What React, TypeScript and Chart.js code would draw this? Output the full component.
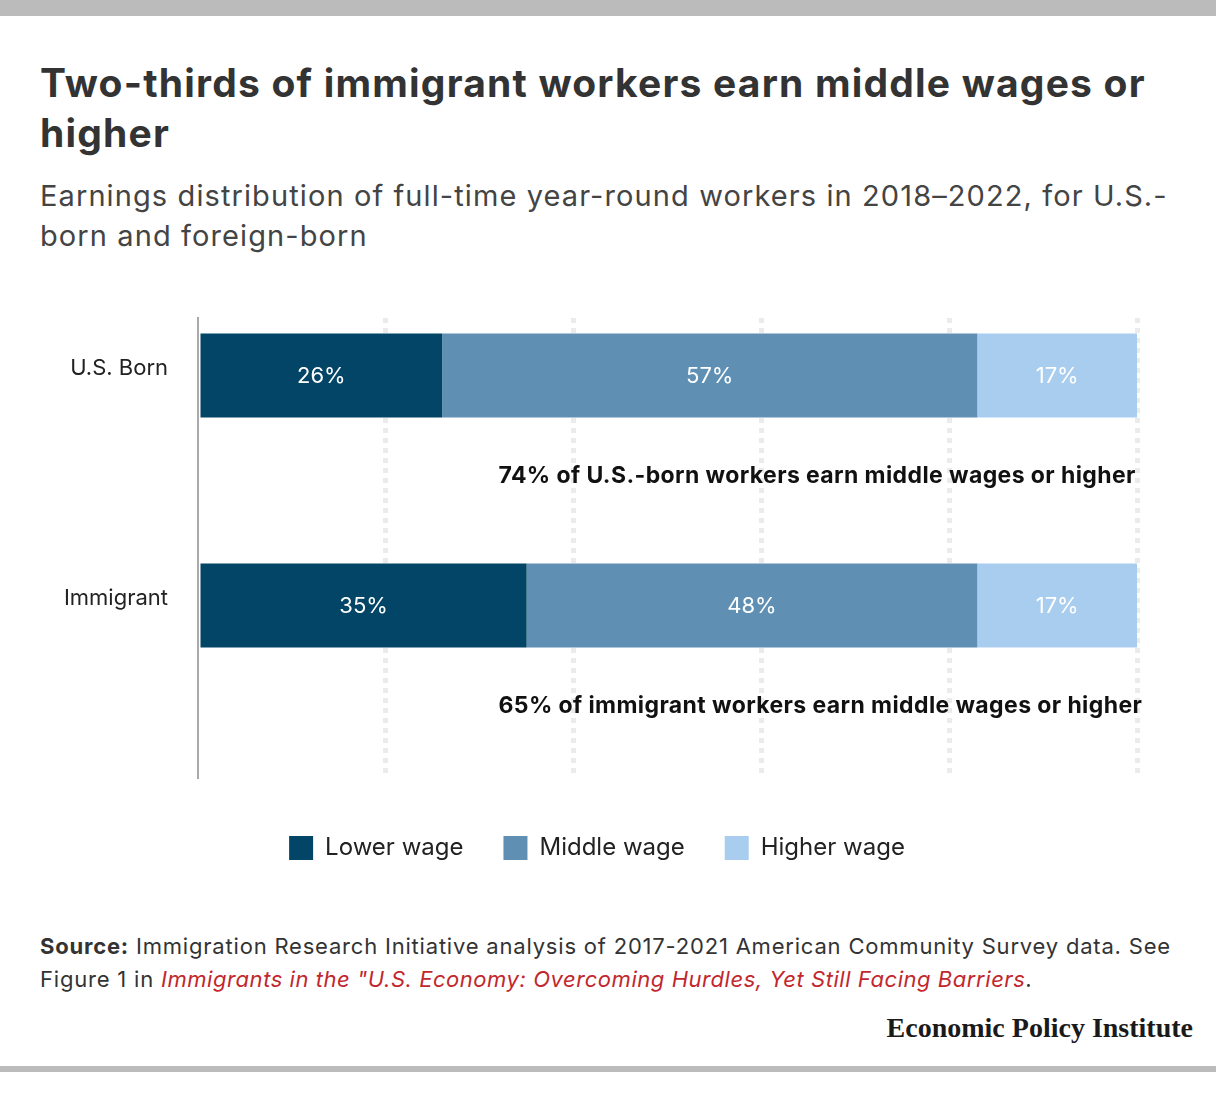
import { useEffect, useRef } from 'react'
import { Chart, registerables } from 'chart.js'

Chart.register(...registerables)

// rows: each bar is followed by an empty row that holds its note
const categories = ['U.S. Born', '', 'Immigrant', '']
const lowerWage = [26, null, 35, null]
const middleWage = [57, null, 48, null]
const higherWage = [17, null, 17, null]
const notes = [
  '74% of U.S.-born workers earn middle wages or higher',
  '',
  '65% of immigrant workers earn middle wages or higher',
  '',
]
const xTicks = [0, 20, 40, 60, 80, 100]
const noteAnchor = 32 // value on the x scale where notes start

const FONT = 'Inter, "Noto Sans", sans-serif'

const barLabels = {
  id: 'barLabels',
  afterDatasetsDraw(chart: any) {
    const { ctx } = chart
    ctx.save()
    ctx.font = `400 22px ${FONT}`
    ctx.fillStyle = '#ffffff'
    ctx.textAlign = 'center'
    ctx.textBaseline = 'middle'
    chart.data.datasets.forEach((ds: any, di: number) => {
      const meta = chart.getDatasetMeta(di)
      meta.data.forEach((el: any, i: number) => {
        const v = ds.data[i]
        if (v == null) return
        ctx.fillText(`${v}%`, (el.x + el.base) / 2, el.y + 1)
      })
    })
    ctx.restore()
  },
}

const rowNotes = {
  id: 'rowNotes',
  afterDatasetsDraw(chart: any) {
    const { ctx, scales } = chart
    ctx.save()
    ctx.font = `700 23px ${FONT}`
    ctx.fillStyle = '#111111'
    ctx.textAlign = 'left'
    ctx.textBaseline = 'middle'
    ;(ctx as any).letterSpacing = '0.4px'
    notes.forEach((t, i) => {
      if (!t) return
      const y = scales.y.getPixelForValue(i + 1) - 14
      ctx.fillText(t, scales.x.getPixelForValue(noteAnchor), y)
    })
    ctx.restore()
  },
}

const WageChart = () => {
  const canvasRef = useRef<HTMLCanvasElement>(null)
  const chartRef = useRef<Chart | null>(null)

  useEffect(() => {
    if (!canvasRef.current) return
    if (chartRef.current) chartRef.current.destroy()

    chartRef.current = new Chart(canvasRef.current, {
      type: 'bar',
      data: {
        labels: categories,
        datasets: [
          { label: 'Lower wage', data: lowerWage, backgroundColor: '#034566' },
          { label: 'Middle wage', data: middleWage, backgroundColor: '#5f90b3' },
          { label: 'Higher wage', data: higherWage, backgroundColor: '#a9cdef' },
        ] as any,
      },
      options: {
        indexAxis: 'y',
        animation: false,
        responsive: false,
        maintainAspectRatio: false,
        layout: { padding: { top: 28, right: 79, bottom: 0, left: 57 } },
        datasets: {
          bar: { categoryPercentage: 0.73, barPercentage: 1, borderWidth: 0 },
        },
        scales: {
          x: {
            stacked: true,
            min: 0,
            max: 100,
            afterBuildTicks: (s: any) => {
              s.ticks = xTicks.map((v) => ({ value: v }))
            },
            afterFit: (s: any) => {
              s.height = 18
            },
            ticks: { display: false },
            grid: {
              drawTicks: false,
              lineWidth: 5,
              color: (c: any) => (c.tick && c.tick.value === 0 ? 'rgba(0,0,0,0)' : '#ebebeb'),
            },
            border: { display: false, dash: [5, 5] },
          },
          y: {
            stacked: true,
            afterFit: (s: any) => {
              s.width = 141
              s.paddingTop = 0
              s.paddingBottom = 0
            },
            grid: { display: false, drawTicks: false },
            border: { display: true, color: '#aaaaaa', width: 2, z: 1 },
            ticks: {
              padding: 30,
              labelOffset: -7,
              color: '#222222',
              font: { family: FONT, size: 22 },
            },
          },
        },
        plugins: {
          legend: {
            position: 'bottom',
            labels: {
              boxWidth: 24,
              boxHeight: 24,
              padding: 40,
              color: '#222222',
              font: { family: FONT, size: 24 },
            },
          },
          tooltip: { enabled: false },
        },
      },
      plugins: [barLabels, rowNotes],
    })

    return () => {
      if (chartRef.current) {
        chartRef.current.destroy()
        chartRef.current = null
      }
    }
  }, [])

  return <canvas ref={canvasRef} width={1216} height={580} style={{ display: 'block' }} />
}

export default function App() {
  useEffect(() => {
    document.body.style.margin = '0'
  }, [])

  return (
    <div
      style={{
        position: 'absolute',
        left: 0,
        top: 0,
        width: 1216,
        height: 1116,
        background: '#fff',
        fontFamily: FONT,
        overflow: 'hidden',
      }}
    >
      <div style={{ position: 'absolute', left: 0, top: 0, width: 1216, height: 16, background: '#bbbbbb' }} />
      <div
        style={{
          position: 'absolute',
          left: 40,
          top: 58,
          fontSize: 39,
          fontWeight: 700,
          lineHeight: '50px',
          letterSpacing: '1.2px',
          color: '#333333',
          whiteSpace: 'nowrap',
        }}
      >
        Two-thirds of immigrant workers earn middle wages or
        <br />
        higher
      </div>
      <div
        style={{
          position: 'absolute',
          left: 40,
          top: 176,
          fontSize: 29,
          lineHeight: '40px',
          letterSpacing: '1.1px',
          color: '#444444',
          whiteSpace: 'nowrap',
        }}
      >
        Earnings distribution of full-time year-round workers in 2018–2022, for U.S.-
        <br />
        born and foreign-born
      </div>
      <div style={{ position: 'absolute', left: 0, top: 290 }}>
        <WageChart />
      </div>
      <div
        style={{
          position: 'absolute',
          left: 40,
          top: 930,
          fontSize: 22,
          lineHeight: '33px',
          letterSpacing: '0.8px',
          color: '#333333',
          whiteSpace: 'nowrap',
        }}
      >
        <b>Source:</b> Immigration Research Initiative analysis of 2017-2021 American Community Survey data. See
        <br />
        Figure 1 in{' '}
        <i style={{ color: '#c1272d', letterSpacing: '0.55px' }}>
          Immigrants in the "U.S. Economy: Overcoming Hurdles, Yet Still Facing Barriers
        </i>
        .
      </div>
      <div
        style={{
          position: 'absolute',
          right: 23,
          top: 1012,
          fontFamily: '"Liberation Serif", "DejaVu Serif", serif',
          fontWeight: 700,
          fontSize: 28,
          color: '#1a1a1a',
          whiteSpace: 'nowrap',
        }}
      >
        Economic Policy Institute
      </div>
      <div style={{ position: 'absolute', left: 0, top: 1066, width: 1216, height: 6, background: '#bbbbbb' }} />
    </div>
  )
}
